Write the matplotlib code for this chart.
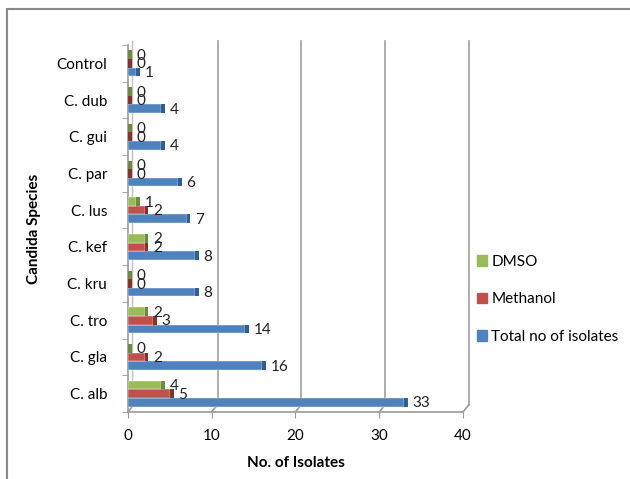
import numpy as np
import matplotlib.pyplot as plt
from matplotlib.patches import Rectangle, Patch

# data, bottom to top as drawn
species  = ['C. alb', 'C. gla', 'C. tro', 'C. kru', 'C. kef',
            'C. lus', 'C. par', 'C. gui', 'C. dub', 'Control']
total    = [33, 16, 14, 8, 8, 7, 6, 4, 4, 1]
methanol = [5, 2, 3, 0, 2, 2, 0, 0, 0, 0]
dmso     = [4, 0, 2, 0, 2, 1, 0, 0, 0, 0]

plt.rcParams['font.family'] = ['Lato', 'DejaVu Sans']

c_green = '#9BBB59'
c_red   = '#C0504D'
c_blue  = '#4F81BD'
axis_c  = '#9a9a9a'

fig = plt.figure(figsize=(6.30, 4.79), dpi=100)
ax = fig.add_axes([0.203, 0.140, 0.532, 0.766])

y = np.arange(len(species))
h = 0.235
depth = 0.45

series = [(total, -h, c_blue, '#2f5f96'),
          (methanol, 0.0, c_red, '#8f2f2c'),
          (dmso, h, c_green, '#6f8a3a')]

for vals, off, col, dark in series:
    ax.barh(y + off, vals, height=h, color=col, edgecolor='white', linewidth=0.3, zorder=3)
    # darker end cap to fake the 3-D look
    ax.barh(y + off, depth, left=vals, height=h, color=dark, linewidth=0, zorder=3)
    for yi, v in zip(y + off, vals):
        ax.text(v + 1.0, yi - 0.03, str(v), ha='left', va='center', fontsize=11, color='#222222', zorder=4)

ax.set_xlim(0, 40)
ax.set_ylim(-0.5, len(species) - 0.5)
ax.set_xticks([0, 10, 20, 30, 40])
ax.set_yticks(y)
ax.set_yticklabels(species)
ax.set_yticks(np.arange(-0.5, len(species), 1), minor=True)
ax.tick_params(axis='y', which='major', length=0, pad=15, labelsize=11)
ax.tick_params(axis='y', which='minor', length=4, color=axis_c)
ax.tick_params(axis='x', length=4, color=axis_c, pad=8, labelsize=11)

for s in ['top', 'right']:
    ax.spines[s].set_visible(False)
for s in ['left', 'bottom']:
    ax.spines[s].set_color(axis_c)
    ax.spines[s].set_linewidth(1.2)

# back wall gridlines (shifted for perspective)
for t in [10, 20, 30, 40]:
    ax.plot([t + 0.7, t + 0.7], [-0.3, 9.6], color='#a0a0a0', lw=1.2, zorder=1, clip_on=False)
for t in [0, 10, 20, 30, 40]:
    ax.plot([t, t + 0.7], [-0.5, -0.3], color=axis_c, lw=1.2, zorder=1, clip_on=False)
ax.plot([0.5, 0.5], [-0.3, 9.6], color='#c0c0c0', lw=1.0, zorder=1, clip_on=False)

ax.set_xlabel('No. of Isolates', fontsize=11, fontweight='bold', labelpad=10)
ax.set_ylabel('Candida Species', fontsize=11, fontweight='bold', labelpad=11)

handles = [Patch(color=c_green), Patch(color=c_red), Patch(color=c_blue)]
fig.legend(handles, ['DMSO', 'Methanol', 'Total no of isolates'],
           loc='upper left', bbox_to_anchor=(0.735, 0.497), frameon=False,
           fontsize=11, handlelength=0.7, handleheight=0.7, handletextpad=0.25,
           labelspacing=1.55)

# outer chart border
fig.patches.append(Rectangle((0.011, -0.1), 1.2, 1.081, transform=fig.transFigure,
                             fill=False, edgecolor='#888888', lw=1.5))

fig.savefig('out.png', dpi=100)
plt.close()
